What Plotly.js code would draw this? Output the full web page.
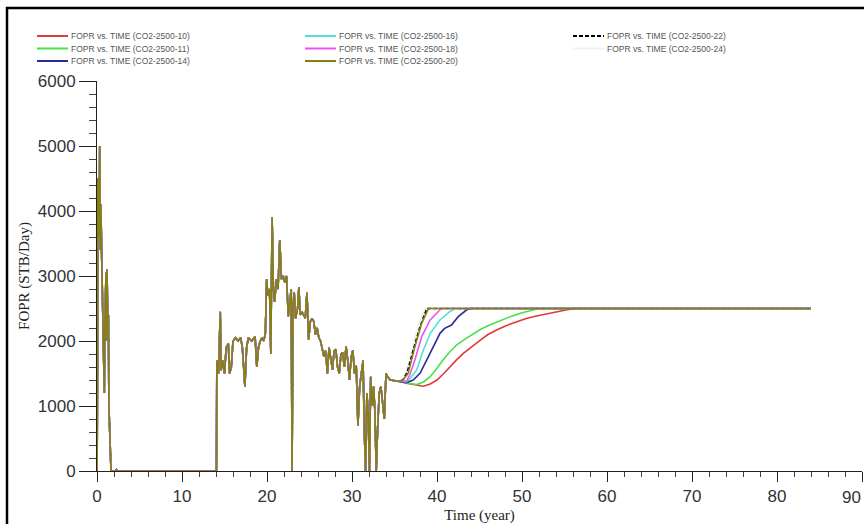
<!DOCTYPE html>
<html>
<head>
<meta charset="utf-8">
<script src="https://cdn.plot.ly/plotly-3.0.1.min.js"></script>
<style>
html,body{margin:0;padding:0;background:#fff;}
#chart{width:864px;height:524px;}
</style>
</head>
<body>
<div id="chart"></div>
<script>
// ---- shared history (same for every case) ----
const histT = [0.00,0.02,0.06,0.10,0.18,0.26,0.32,0.38,0.46,0.55,0.62,0.70,0.78,0.86,0.92,1.00,1.06,1.12,1.18,1.26,1.34,1.40,1.46,1.55,1.65,2.2,2.3,2.4,
  14.05,14.1,14.3,14.5,14.6,14.8,15.0,15.2,15.45,15.6,15.8,16.0,16.3,16.6,16.9,17.1,17.4,17.6,17.8,18.2,18.6,18.8,19.0,19.2,19.4,19.6,19.8,
  19.96,20.1,20.3,20.45,20.6,20.75,20.9,21.1,21.3,21.5,21.7,21.9,22.1,22.3,22.5,22.7,22.85,22.95,23.05,23.2,23.35,23.6,23.75,23.9,24.1,24.3,
  24.5,24.7,24.9,25.1,25.3,25.5,25.7,25.9,26.1,26.3,26.5,26.7,26.9,27.1,27.3,27.5,27.7,27.9,28.1,28.3,28.5,28.7,28.9,29.1,29.3,29.5,29.7,
  29.9,30.1,30.3,30.5,30.7,30.9,31.1,31.3,31.45,31.6,31.75,31.9,32.05,32.2,32.4,32.55,32.7,32.85,33.0,33.2,33.4,33.6,33.8,34.0,34.2,34.5,35.0,35.5];
const histV = [0,200,1700,4500,4200,3600,5000,3400,4100,3300,2800,2100,1900,1200,2200,2500,3050,2000,3100,2300,2400,1000,700,300,0,0,20,0,
  0,1700,1500,2450,1550,1700,1500,1900,1960,1500,1600,2000,2050,2000,2050,1900,1300,1900,2050,2000,2070,1600,1900,2000,2050,2000,2100,
  2950,2700,2800,1800,3900,2800,2600,2950,2800,3550,2950,3000,2900,3000,2380,2600,2800,0,2500,2750,2350,2500,2830,2400,2450,2400,
  2350,2740,2020,2300,2350,2300,2100,2200,2050,2000,1900,1760,1850,1500,1900,1700,1560,1850,1870,1600,1500,1800,1820,1600,1920,1700,1400,
  1750,1860,1500,1620,700,1300,1500,1700,600,0,1200,900,0,1450,1000,1300,900,0,600,1200,1300,1000,800,1500,1450,1400,1390,1380];

// ---- forecast per case ----
const t10 = [36.4,37.5,38.4,39.2,40.0,40.8,41.5,42.3,43.1,44.1,45.1,46.0,47.0,48.2,49.4,50.5,51.7,52.9,54.1,55.3,56.4,84];
const v10 = [1350,1320,1305,1340,1400,1500,1605,1710,1810,1920,2015,2100,2170,2240,2297,2345,2385,2420,2451,2480,2500,2500];
const t11 = [36.4,37.6,38.4,39.2,40.0,40.7,41.5,42.3,43.3,44.3,45.2,46.2,47.4,48.6,49.9,51.3,52.0,84];
const v11 = [1355,1330,1370,1451,1580,1708,1830,1938,2030,2118,2185,2246,2315,2374,2430,2480,2500,2500];
const t14 = [36.4,37.2,38.0,38.8,39.6,40.35,40.9,41.7,42.5,43.5,44.0,84];
const v14 = [1360,1400,1503,1708,1912,2118,2195,2246,2374,2480,2500,2500];
const t16 = [36.4,36.8,37.6,38.4,39.2,40.35,41.5,42.1,84];
const v16 = [1370,1420,1554,1862,2118,2323,2450,2500,2500];
const t18 = [36.4,36.8,37.4,38.2,39.2,39.9,40.5,84];
const v18 = [1380,1480,1708,2067,2323,2420,2500,2500];
const t20 = [36.0,36.6,37.4,38.2,39.0,84];
const v20 = [1400,1500,1912,2272,2500,2500];
const t22 = [36.0,36.5,37.2,38.0,38.8,84];
const v22 = [1400,1520,1860,2220,2500,2500];
const t24 = [36.0,36.4,37.0,37.8,38.6,84];
const v24 = [1400,1520,1860,2250,2500,2500];

const caseNames = ['FOPR vs. TIME (CO2-2500-10)','FOPR vs. TIME (CO2-2500-11)','FOPR vs. TIME (CO2-2500-14)',
                   'FOPR vs. TIME (CO2-2500-16)','FOPR vs. TIME (CO2-2500-18)','FOPR vs. TIME (CO2-2500-20)',
                   'FOPR vs. TIME (CO2-2500-22)','FOPR vs. TIME (CO2-2500-24)'];
const caseT = [t10,t11,t14,t16,t18,t20,t22,t24];
const caseV = [v10,v11,v14,v16,v18,v20,v22,v24];
const caseColors = ['#e03a3a','#48e048','#2a2a9a','#50e0e0','#f050f0','#858010','#000000','#f0f0f0'];
const caseDash = ['solid','solid','solid','solid','solid','solid','4px,2px','solid'];

const xTickVals = [0,10,20,30,40,50,60,70,80,90];
const yTickVals = [0,1000,2000,3000,4000,5000,6000];
const xMax = 90;

// ---- geometry ----
const W = 864, H = 524, L = 97, R = 2, T = 81, B = 53;
const pw = W - L - R, ph = H - T - B;
const px2x = p => (p - L) / pw;
const py2y = p => (H - B - p) / ph;

// draw order: olive (20) on top
const drawOrder = [7,6,0,1,2,3,4,5];
const traces = drawOrder.map(i => ({
  type: 'scatter', mode: 'lines',
  x: histT.concat(caseT[i]), y: histV.concat(caseV[i]),
  name: caseNames[i], showlegend: false,
  line: {color: caseColors[i], width: 1.6, dash: caseDash[i]},
  hoverinfo: 'skip'
}));

const tickFont = {family: 'Liberation Sans, Arial, sans-serif', size: 17, color: '#333'};
const titleFont = {family: 'Liberation Serif, Times New Roman, serif', size: 15, color: '#222'};

const shapes = [], annotations = [];
caseNames.forEach((nm, i) => {
  const col = Math.floor(i / 3), row = i % 3;
  const x0 = 37 + 268 * col, yy = 36 + 12.5 * row;
  shapes.push({type: 'line', xref: 'paper', yref: 'paper',
    x0: px2x(x0), x1: px2x(x0 + 31), y0: py2y(yy), y1: py2y(yy),
    line: {color: caseColors[i], width: 2, dash: caseDash[i]}});
  annotations.push({xref: 'paper', yref: 'paper', x: px2x(x0 + 32), y: py2y(yy),
    xanchor: 'left', yanchor: 'middle', showarrow: false, text: nm,
    font: {family: 'Liberation Sans, Arial, sans-serif', size: 8.5, color: '#555'}});
});
// last x tick label sits flush against the right edge, as in the source
annotations.push({xref: 'x', yref: 'paper', x: xMax, y: 0, xanchor: 'right', yanchor: 'top',
  yshift: -15, xshift: 1, showarrow: false, text: String(xMax), font: tickFont});
// frame lines (left and top edges of the picture)
shapes.push({type: 'line', xref: 'paper', yref: 'paper', x0: px2x(7), x1: px2x(7), y0: py2y(7), y1: py2y(H + 5), line: {color: '#000', width: 2.5}});
shapes.push({type: 'line', xref: 'paper', yref: 'paper', x0: px2x(6), x1: px2x(W + 5), y0: py2y(8), y1: py2y(8), line: {color: '#000', width: 2.5}});

const layout = {
  width: W, height: H,
  margin: {l: L, r: R, t: T, b: B, pad: 0},
  paper_bgcolor: '#fff', plot_bgcolor: '#fff',
  showlegend: false,
  xaxis: {
    range: [0, xMax], tickvals: xTickVals, ticktext: xTickVals.map(v => v === xMax ? '' : String(v)),
    showgrid: false, zeroline: false, showline: true, linecolor: '#222', linewidth: 1,
    ticks: 'outside', ticklen: 10, tickcolor: '#222', tickwidth: 1,
    minor: {dtick: 2, ticks: 'outside', ticklen: 5, tickcolor: '#444', showgrid: false},
    tickfont: tickFont, ticklabelstandoff: 0,
    title: {text: 'Time (year)', font: titleFont, standoff: 4}
  },
  yaxis: {
    range: [0, 6000], tickvals: yTickVals, ticktext: yTickVals.map(String),
    showgrid: false, zeroline: false, showline: true, linecolor: '#222', linewidth: 1,
    ticks: 'outside', ticklen: 17, tickcolor: '#222', tickwidth: 1,
    minor: {dtick: 200, ticks: 'outside', ticklen: 7, tickcolor: '#444', showgrid: false},
    tickfont: tickFont, ticklabelstandoff: 0, ticklabeloverflow: 'allow',
    title: {text: 'FOPR (STB/Day)', font: titleFont, standoff: 4}
  },
  shapes: shapes, annotations: annotations
};

Plotly.newPlot('chart', traces, layout, {displayModeBar: false, staticPlot: true});
</script>
</body>
</html>
